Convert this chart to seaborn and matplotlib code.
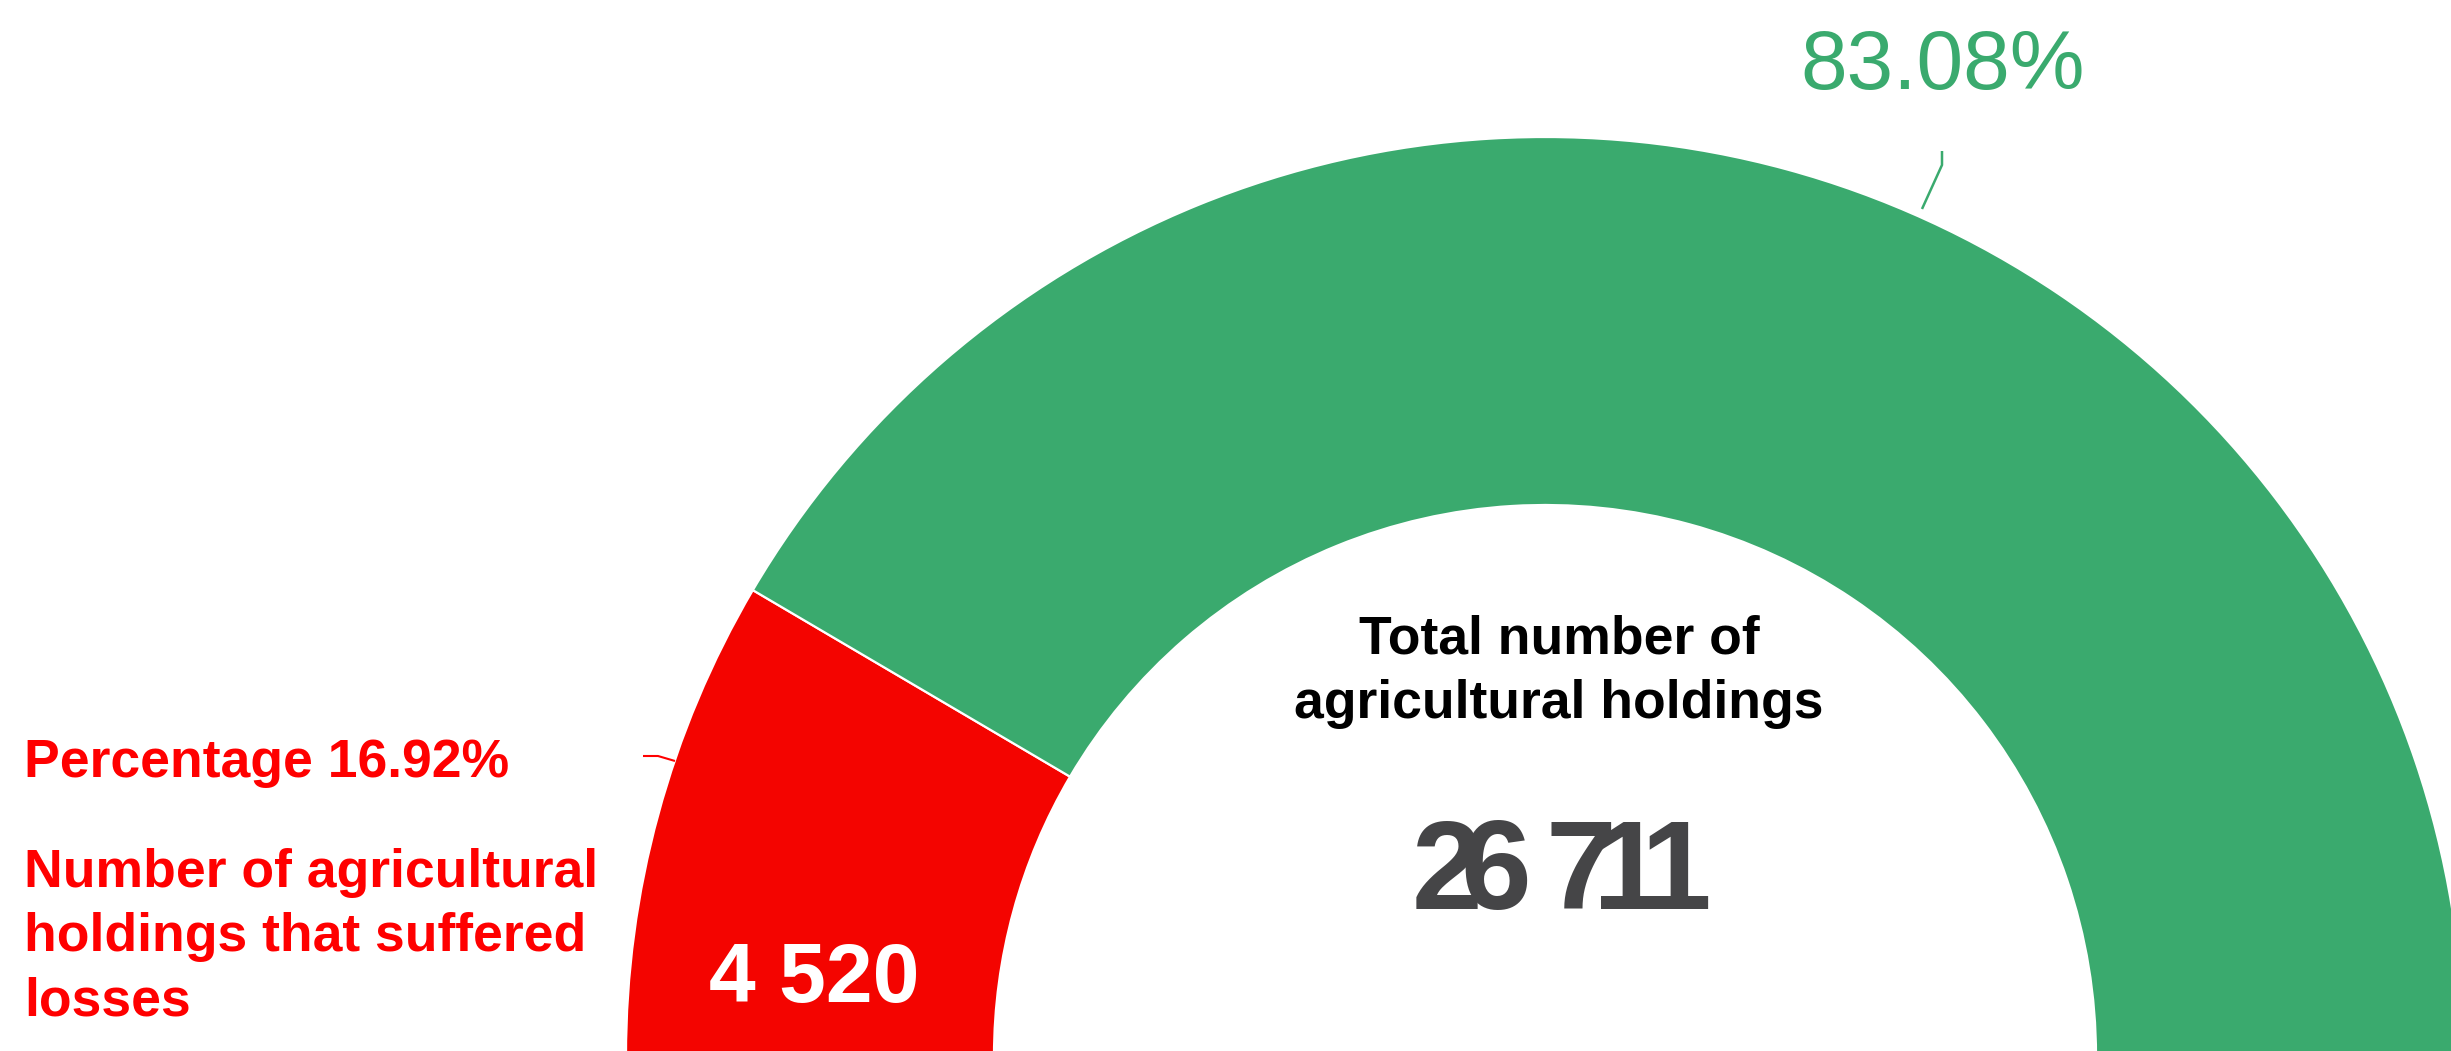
import matplotlib
matplotlib.use("Agg")
import matplotlib.pyplot as plt
import seaborn as sns

# Agricultural holdings by whether they suffered losses
categories = ["Holdings that suffered losses", "Other holdings"]
counts = [4520, 22191]
slice_colors = ["#F40400", "#3AAA6E"]

loss_caption = ["Number of agricultural", "holdings that suffered", "losses"]
total_caption = ["Total number of", "agricultural holdings"]

sns.set_theme(style="white")
plt.rcParams["font.family"] = ["Liberation Sans", "DejaVu Sans"]

W, H = 2451, 1051
fig = plt.figure(figsize=(W / 100, H / 100), dpi=100)
ax = fig.add_axes([0, 0, 1, 1])


def Y(y_top):
    """Convert a top-down pixel row to the axes' upward y coordinate."""
    return H - y_top


total = sum(counts)
shares = [c / total * 100 for c in counts]

# Donut: the loss slice is centred on the left-hand side
start = 180 - 360 * (counts[0] / total) / 2
ax.pie(
    counts,
    colors=slice_colors,
    startangle=start,
    counterclock=True,
    radius=919,
    center=(1545, Y(1056)),
    wedgeprops=dict(width=368, edgecolor="white", linewidth=1.6),
)
ax.set_xlim(0, W)
ax.set_ylim(0, H)
ax.set_aspect("auto")
ax.axis("off")


def spaced(n):
    return f"{n:,}".replace(",", " ")


# Share of the remaining holdings, with its leader
ax.text(1943, Y(89), f"{shares[1]:.2f}%", ha="center", va="baseline",
        fontsize=60.5, color=slice_colors[1])
ax.plot([1942, 1942, 1922], [Y(151), Y(165), Y(209)],
        color=slice_colors[1], lw=1.8, solid_capstyle="butt")

# Share of holdings with losses, with its leader
ax.text(24, Y(777), f"Percentage {shares[0]:.2f}%", ha="left", va="baseline",
        fontsize=38.5, fontweight="bold", color="#FF0000")
ax.plot([643, 658, 675], [Y(756), Y(756), Y(761)],
        color="#FF0000", lw=1.5, solid_capstyle="butt")

for line, base in zip(loss_caption, [887, 951, 1015]):
    ax.text(24, Y(base), line, ha="left", va="baseline",
            fontsize=38.5, fontweight="bold", color="#FF0000")

# Count inside the loss slice
ax.text(814, Y(1002), spaced(counts[0]), ha="center", va="baseline",
        fontsize=60.5, fontweight="bold", color="white")

# Centre caption and total
for line, base in zip(total_caption, [653, 718]):
    ax.text(1559, Y(base), line, ha="center", va="baseline",
            fontsize=38.5, fontweight="bold", color="black")

# The total is set with very tight tracking, so glyphs touch and overlap
total_txt = spaced(total)
digit_adv, space_adv = 48, 37
widths = [space_adv if ch == " " else digit_adv for ch in total_txt]
span = sum(widths) - widths[0] / 2 - widths[-1] / 2
x = 1562 - span / 2
for ch, w_prev, w in zip(total_txt, [0] + widths[:-1], widths):
    x += (w_prev + w) / 2 if w_prev else 0
    if ch != " ":
        ax.text(x, Y(909), ch, ha="center", va="baseline",
                fontsize=91.5, fontweight="bold", color="#454547")

fig.savefig("out.png", dpi=100)
